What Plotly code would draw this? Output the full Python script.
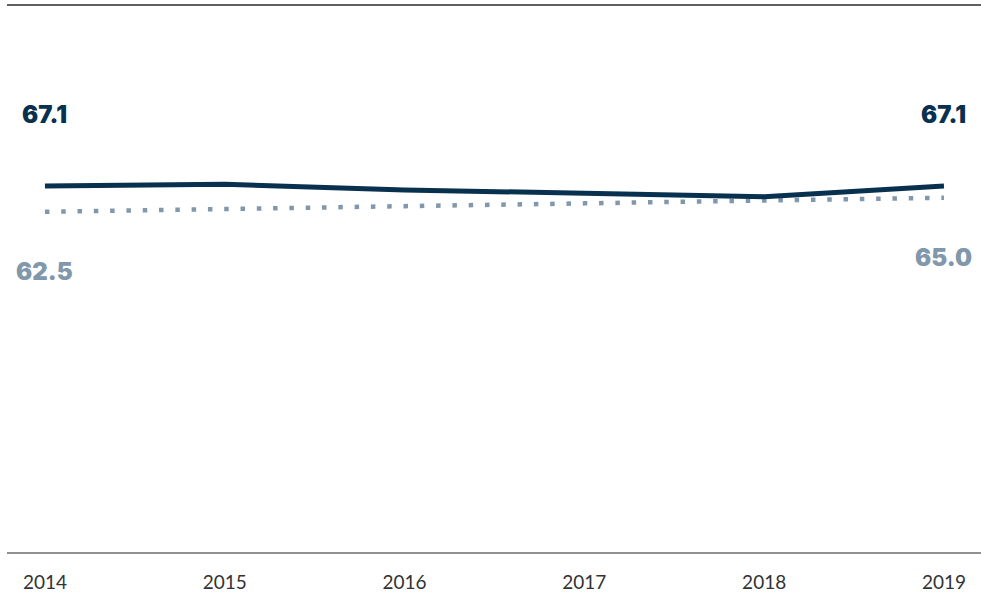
import plotly.graph_objects as go

# Series values
years = [2014, 2015, 2016, 2017, 2018, 2019]
series_main = [67.1, 67.4, 66.4, 65.8, 65.2, 67.1]
series_ref = [62.5, 62.9, 63.5, 64.0, 64.4, 65.0]
tick_labels = ["2014", "2015", "2016", "2017", "2018", "2019"]

NAVY = "#08304f"
SLATE = "#8197ab"

fig = go.Figure()

fig.add_trace(go.Scatter(
    x=years, y=series_ref, mode="lines",
    line=dict(color=SLATE, width=4.5, dash="4.5px,11.8px"),
    hoverinfo="skip", showlegend=False,
))
fig.add_trace(go.Scatter(
    x=years, y=series_main, mode="lines",
    line=dict(color=NAVY, width=5),
    hoverinfo="skip", showlegend=False,
))

# End-point value labels
label_font = dict(family="Inter", size=24, weight=900)
for idx in (0, -1):
    fig.add_annotation(
        x=years[idx], y=series_main[idx], text=f"{series_main[idx]:.1f}",
        showarrow=False, yshift=71, yanchor="middle", xanchor="center",
        font=dict(color=NAVY, **label_font),
    )
    fig.add_annotation(
        x=years[idx], y=series_ref[idx], text=f"{series_ref[idx]:.1f}",
        showarrow=False, yshift=-60, yanchor="middle", xanchor="center",
        font=dict(color=SLATE, **label_font),
    )

# Frame rules at top and bottom
fig.add_shape(type="line", xref="paper", yref="paper", x0=0, x1=1, y0=1, y1=1,
              line=dict(color="#2a2a2a", width=1.3))
fig.add_shape(type="line", xref="paper", yref="paper", x0=0, x1=1, y0=0, y1=0,
              line=dict(color="#6a6a6a", width=1.3))

fig.update_layout(
    width=981, height=597,
    margin=dict(l=7, r=0, t=5, b=44),
    paper_bgcolor="white", plot_bgcolor="white",
    xaxis=dict(
        range=[2013.789, 2019.206], tickmode="array",
        tickvals=years, ticktext=tick_labels,
        showgrid=False, zeroline=False, showline=False, ticks="",
        tickfont=dict(family="Lato", size=19, color="#333333"),
        ticklabelstandoff=16,
    ),
    yaxis=dict(
        range=[1.6, 99.4], showgrid=False, zeroline=False,
        showline=False, showticklabels=False, ticks="",
    ),
)

fig.write_html("out.html")
